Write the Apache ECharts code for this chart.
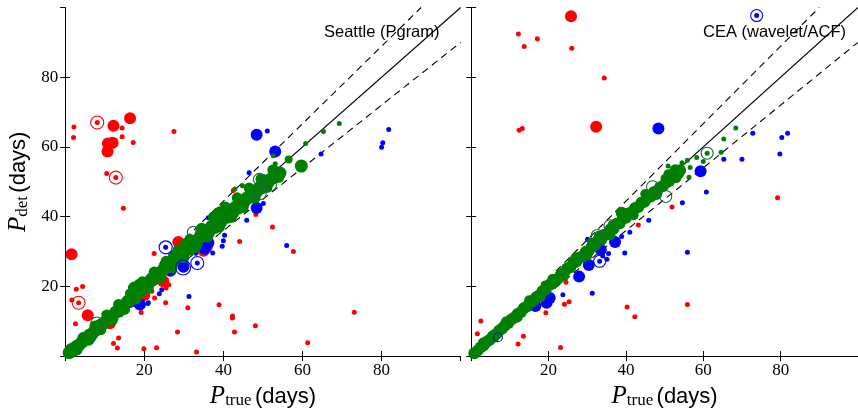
<!DOCTYPE html>
<html><head><meta charset="utf-8">
<script src="https://cdn.jsdelivr.net/npm/echarts@6/dist/echarts.min.js"></script>
<style>html,body{margin:0;padding:0;background:#fff}#c{width:858px;height:414px}</style>
</head><body><div id="c"></div>
<script>
// ---- tick labels ----
const tickValues = [20, 40, 60, 80];
const panelTitles = ['Seattle (Pgram)', 'CEA (wavelet/ACF)'];

// ---- reference lines (ratio P_det / P_true) ----
const ratioSolid = 1.0;
const ratioUpper = 1 / 0.9;
const ratioLower = 0.9;

// ===== Seattle (Pgram) panel =====
const seaRedSmall = [[2.2,65.7],[2.1,62.7],[14.4,65.4],[14.4,62.9],[17.2,61.3],[10.5,52.4],[14.7,42.4],[27.5,64.4],[2.8,19.2],[4.4,20],[1.7,16.1],[2.6,9.3],[22.5,29.4],[22.6,16.7],[25.4,15.3],[25.5,19.5],[26.2,20.5],[25,21],[19.2,12.5],[31,13.9],[28.4,6.9],[13.5,5.2],[12.2,3.6],[13.2,2.3],[19.9,2.1],[23.1,2.4],[33.2,1.2],[38.9,14.7],[42.3,11.5],[42.3,10.9],[42.8,6.9],[48.1,8.7],[44.1,32.9],[52.4,37],[48.2,40.6],[57.7,30],[61.3,3.8],[73.1,12.6],[42.5,47.5],[11.3,8.7],[21.9,18.6],[9.5,7.2],[15.5,13.4],[18,16.3]];
const seaRedLarge = [[1.6,29.2],[5.7,11.7],[12.2,66.1],[16.4,68.2],[10.8,61],[12,61.2],[10.7,58.7],[28.6,32.7],[35.8,31.3],[11.3,9.4],[20,17.5],[35,30.2],[24.8,21.5]];
const seaRedTarget = [[8.1,67],[12.8,51.2],[3.4,15.3]];
const seaBlueSmall = [[51.1,64.6],[46.5,52.6],[45.9,39],[50.1,43.8],[56,31.7],[64.7,58],[80,59.9],[80.3,61.2],[81.8,65],[40.3,34.7],[40,33.1],[39.7,31.5],[37.3,29.6],[31.3,17.1],[20.9,15.1],[23.8,17.9],[24.4,19],[36.2,39.7],[14,12.3],[8.1,7.8],[16.5,14.5],[33,29.5],[21,15.3]];
const seaBlueLarge = [[48.4,63.5],[53.1,58.7],[48.4,42.5],[29.9,25.6],[35.3,30.8],[18.9,14.8],[6.3,5.4],[26.6,24.5],[17.5,15.8],[36.2,32.5]];
const seaBlueTarget = [[25.4,31.2],[33.4,26.7]];
const seaBlueRing = [[29.8,25.4]];
const seaGreenBand = [[1,1],[2,1.6],[2.8,2.7],[3.5,3.2],[4.3,4.1],[5.2,4.8],[6,5.9],[6.8,6.4],[7.5,7.3],[8.3,7.8],[9,8.9],[9.8,9.5],[10.5,10.1],[11.2,11.3],[12,11.6],[12.8,12.6],[13.5,13],[14.3,14.1],[15,14.6],[15.8,15.7],[16.5,16.1],[17.2,17.4],[17.8,18.6],[18.5,19.2],[19.2,18.8],[19.8,20.1],[20.5,20.6],[21.3,21.2],[22,22.3],[22.8,22.6],[23.5,23.7],[24.2,24],[25,25.2],[25.7,25.5],[26.5,26.8],[27.2,27],[28,28.3],[28.8,28.5],[29.5,29.9],[30.3,30.2],[31,31.4],[31.8,31],[32.5,32.8],[33.2,32.5],[34,34.1],[34.8,34.5],[35.5,35.8],[36.3,35.5],[37,37.2],[37.8,36.9],[38.5,38.6],[39.3,38.4],[39.2,41.1],[40,40.3],[40.8,39.8],[41.5,41.2],[42.3,41],[43,42.7],[43.8,42.5],[44.5,44],[45.3,44.3],[46,45.4],[46.8,45.6],[47.5,46.7],[48.3,47],[49,48.2],[49.8,48.3],[50.5,49.4],[51.3,49.8],[52,50.8],[52.8,51.2],[53.5,52],[54.3,52.5],[59.7,54.5],[17.5,19.5],[18.8,20.3],[30.5,32],[34.5,35.6],[38,39.8]];
const seaGreenBandEdge = [[1.5,2.2],[3,1.8],[4.5,5.3],[6,4.6],[7.5,8.6],[9,7.6],[10.5,11.8],[12,10.5],[13.5,14.8],[15,13.4],[16.5,17.9],[18,16.5],[19.5,21.3],[21,19.5],[22.5,24.1],[24,22.4],[25.5,27.2],[27,25.3],[28.5,30.4],[30,28.3],[31.5,33.5],[33,31.2],[34.5,36.7],[36,34.1],[37.5,39.9],[39,37],[40.5,42.8],[42,39.8],[43.5,45.4],[45,42.6],[46.5,48.2],[48,45.4],[49.5,50.8],[51,48.4],[52.5,53.4],[54,51.3]];
const seaGreenMedium = [[56.5,56.4],[2.5,1.5],[8.5,9.2],[13.8,12.2],[22.5,21.3],[27,28.1],[31.5,30],[41,42.2],[45,43],[47,47.5],[53,53.6]];
const seaGreenSmall = [[52.6,57.5],[60.8,61],[65.3,64.4],[69.3,66.7],[53.1,55.2],[44.8,48.9],[42.9,47.9],[46,48.2],[50.2,51.5]];
const seaGreenRing = [[49.1,50.7],[51.9,49.1],[49.3,46.6],[32.4,35.5],[8,9.5]];

// ===== CEA (wavelet/ACF) panel =====
const ceaRedSmall = [[12.2,92.4],[13.7,88.8],[17.1,91],[26,88.3],[34.4,79.8],[12.4,64.8],[13.2,65.3],[79.2,45.4],[51.9,42.8],[43.2,37.6],[55.9,14.8],[40.3,14.1],[42.3,11.3],[24.1,14.9],[25.3,15.6],[19.3,12.4],[2.5,10.1],[1.6,6.4],[13.5,5.7],[12.1,3.5],[23.1,2.5],[24.5,21.2]];
const ceaRedLarge = [[25.8,97.5],[32.3,65.8]];
const ceaBlueSmall = [[72.8,63.9],[81.8,63.9],[80.3,62.7],[79.8,58],[70,56.5],[65.3,56.5],[60.8,47.1],[54.6,44],[45.9,39],[55.9,29.8],[39.7,29.6],[35.1,27.8],[35.5,29.4],[34,28.7],[31.3,18],[23.7,17.6],[38.9,34.3],[41,35.5],[30.1,33.5],[22.5,21.5]];
const ceaBlueLarge = [[48.4,65.3],[59.3,53],[27.9,22.8],[19.5,15.3],[20.3,16.7],[16.6,14.4],[30.4,26.1],[37.2,32.7],[33.5,30.5]];
const ceaBlueTarget = [[73.8,97.7],[33.2,27.2]];
const ceaBlueRing = [[6.9,5.4]];
const ceaGreenBand = [[0.8,0.8],[1.6,1.5],[2.4,2.5],[3.2,3.1],[4,4.1],[4.8,4.7],[5.6,5.7],[6.4,6.3],[7.2,7.3],[8,7.9],[8.8,8.9],[9.6,9.5],[10.4,10.5],[11.2,11.1],[12,12.1],[12.8,12.6],[13.6,13.7],[14.4,14.2],[15.2,15.3],[16,15.8],[16.8,16.9],[17.6,17.4],[18.4,18.6],[19.2,19.1],[20,20.3],[20.8,20.7],[21.6,21.8],[22.4,22.2],[23.2,23.4],[24,24],[24.8,25.1],[25.6,25.5],[26.4,26.7],[27.2,27.1],[28,28.3],[28.8,28.6],[29.6,29.9],[30.4,30.2],[31.2,31.5],[32,31.8],[32.8,33.2],[33.6,33.4],[34.4,34.8],[35.2,34.9],[36,36.4],[36.8,36.5],[37.6,38],[38.4,38.1],[38.9,41.1],[39.2,39.5],[40,39.7],[40.8,41],[41.6,41.2],[42.3,42.3],[42.4,42.5],[43.2,42.8],[44,44],[44.8,44.3],[45.6,45.5],[46.4,45.8],[47.2,47],[48,47.3],[48.8,48.4],[49.6,48.8],[50.4,49.8],[51.2,50.2],[52,51.2],[52.8,51.6],[53.5,52.4],[54,53.3],[52.8,53.3]];
const ceaGreenBandEdge = [[3,3.8],[6,5.3],[9,9.9],[12,11.1],[15,16],[18,16.9],[21,22.1],[24,22.9],[27,28.3],[30,28.8],[33,34.5],[36,34.6],[39,40.6],[42,40.4],[45,46.5],[48,46.2],[51,52.2],[53,51]];
const ceaGreenMedium = [[19,20.5],[26,27.4],[31,32.8],[36.4,37.8],[45,46],[50,51]];
const ceaGreenSmall = [[68.4,65.4],[65.3,62.3],[64.6,58.5],[60,55.8],[58.3,57],[55.9,56.2],[54.5,55.5],[56.6,54.1],[56.3,51.3],[50.9,54.5]];
const ceaGreenTarget = [[61,58.2]];
const ceaGreenRing = [[46.9,48.6],[50.3,45.8],[35.9,37.4],[32.6,34.6]];

const RED = '#ff0000', BLUE = '#0000ff', GREEN = '#008000', RING_G = '#1f6b45';

function refLine(ratio, gi, dashed) {
  const end = ratio >= 1 ? [100 / ratio, 100] : [100, 100 * ratio];
  return {type: 'line', xAxisIndex: gi * 2, yAxisIndex: gi * 2, data: [[0, 0], end],
    symbol: 'none', silent: true, z: 1, animation: false,
    lineStyle: {color: '#000', width: 1.1, type: dashed ? [7, 5] : 'solid'}};
}
function dots(data, gi, color, size) {
  return {type: 'scatter', xAxisIndex: gi * 2, yAxisIndex: gi * 2, data: data,
    symbol: 'circle', symbolSize: size, silent: true, animation: false, z: 3,
    itemStyle: {color: color, opacity: 1}};
}
function rings(data, gi, color, size) {
  return {type: 'scatter', xAxisIndex: gi * 2, yAxisIndex: gi * 2, data: data,
    symbol: 'circle', symbolSize: size, silent: true, animation: false, z: 4,
    itemStyle: {color: 'rgba(255,255,255,0)', borderColor: color, borderWidth: 1.1, opacity: 1}};
}

const grids = [
  {left: 65.2, top: 7.5, width: 395.5, height: 355.2},
  {left: 471.2, top: 7.5, width: 395.5, height: 355.2}
];
const serif = 'Liberation Serif';
const sans = 'Liberation Sans';
function nameRich() {
  return {
    i: {fontFamily: serif, fontStyle: 'italic', fontSize: 25, color: '#000'},
    s: {fontFamily: serif, fontSize: 17, color: '#000', verticalAlign: 'bottom'},
    d: {fontFamily: sans, fontSize: 22, color: '#000'}
  };
}
const xAxes = [], yAxes = [];
[0, 1].forEach(function (gi) {
  const base = {type: 'value', min: 0, max: 100, interval: 20, gridIndex: gi, splitLine: {show: false},
    axisLine: {show: true, lineStyle: {color: '#000', width: 1}},
    axisTick: {show: true, inside: true, length: 5, lineStyle: {color: '#000', width: 1}}};
  xAxes.push(Object.assign({}, base, {position: 'bottom',
    axisLabel: {show: true, margin: 6, fontFamily: serif, fontSize: 17, color: '#000', showMinLabel: false, showMaxLabel: false,
      formatter: function (v) { return tickValues.indexOf(v) >= 0 ? String(v) : ''; }},
    name: '{i|P}{s|true} {d|(days)}', nameLocation: 'middle', nameGap: 25, nameTextStyle: {rich: nameRich()}}));
  xAxes.push(Object.assign({}, base, {position: 'top', axisLabel: {show: false}}));
  yAxes.push(Object.assign({}, base, {position: 'left',
    axisLabel: {show: gi === 0, margin: 7, fontFamily: serif, fontSize: 17, color: '#000', showMinLabel: false, showMaxLabel: false,
      formatter: function (v) { return tickValues.indexOf(v) >= 0 ? String(v) : ''; }},
    name: gi === 0 ? '{i|P}{s|det} {d|(days)}' : '', nameLocation: 'middle', nameRotate: 90, nameGap: 34,
    nameTextStyle: {rich: nameRich()}}));
  yAxes.push(Object.assign({}, base, {position: 'right', axisLabel: {show: false}}));
});

const series = [];
[0, 1].forEach(function (gi) {
  series.push(refLine(ratioSolid, gi, false), refLine(ratioUpper, gi, true), refLine(ratioLower, gi, true));
});
// Seattle
series.push(dots(seaRedSmall, 0, RED, 5), dots(seaRedLarge, 0, RED, 12), dots(seaRedTarget, 0, RED, 5), rings(seaRedTarget, 0, RED, 13));
series.push(dots(seaBlueSmall, 0, BLUE, 5), dots(seaBlueLarge, 0, BLUE, 12), dots(seaBlueTarget, 0, BLUE, 5), rings(seaBlueTarget, 0, BLUE, 13), rings(seaBlueRing, 0, BLUE, 15));
series.push(dots(seaGreenBand, 0, GREEN, 13), dots(seaGreenBandEdge, 0, GREEN, 11), dots(seaGreenMedium, 0, GREEN, 8), dots(seaGreenSmall, 0, GREEN, 5), rings(seaGreenRing, 0, RING_G, 12));
// CEA
series.push(dots(ceaRedSmall, 1, RED, 5), dots(ceaRedLarge, 1, RED, 12));
series.push(dots(ceaBlueSmall, 1, BLUE, 5), dots(ceaBlueLarge, 1, BLUE, 12), dots(ceaBlueTarget, 1, BLUE, 5), rings(ceaBlueTarget, 1, BLUE, 12), rings(ceaBlueRing, 1, BLUE, 9));
series.push(dots(ceaGreenBand, 1, GREEN, 12), dots(ceaGreenBandEdge, 1, GREEN, 10), dots(ceaGreenMedium, 1, GREEN, 8), dots(ceaGreenSmall, 1, GREEN, 5), dots(ceaGreenTarget, 1, GREEN, 5), rings(ceaGreenTarget, 1, RING_G, 12), rings(ceaGreenRing, 1, RING_G, 12));

const chart = echarts.init(document.getElementById('c'), null, {renderer: 'canvas'});
chart.setOption({
  animation: false,
  backgroundColor: '#fff',
  grid: grids,
  xAxis: xAxes,
  yAxis: yAxes,
  graphic: [
    {type: 'text', left: 324, top: 24, z: 0, style: {text: panelTitles[0], font: '16.5px "Liberation Sans"', fill: '#000'}},
    {type: 'text', left: 703, top: 24, z: 0, style: {text: panelTitles[1], font: '16.5px "Liberation Sans"', fill: '#000'}}
  ],
  series: series
});
</script></body></html>
